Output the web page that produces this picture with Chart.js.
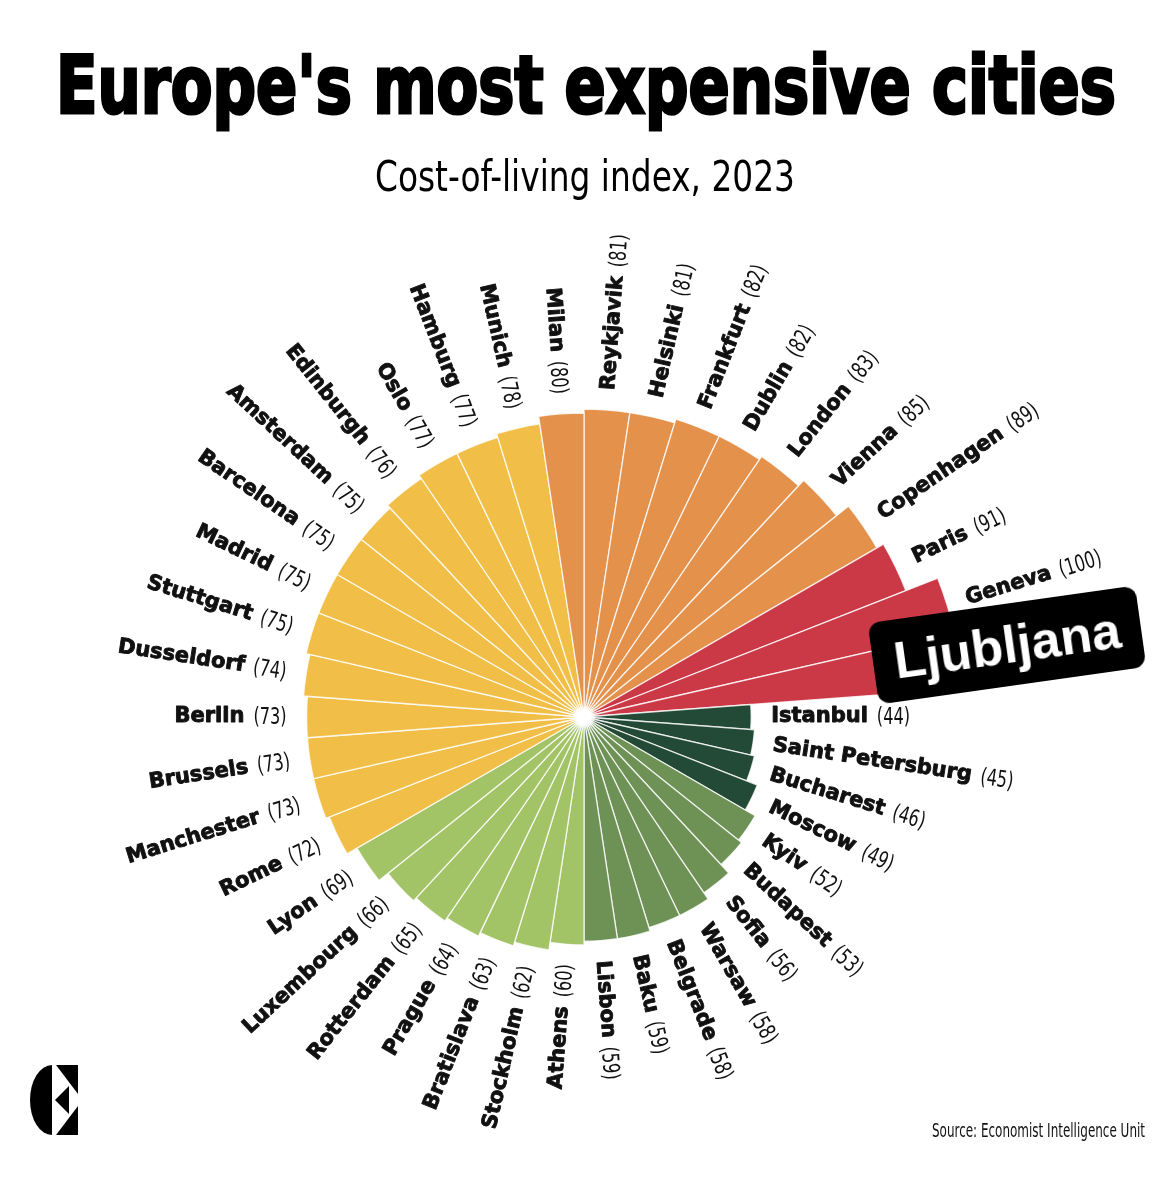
<!DOCTYPE html>
<html>
<head>
<meta charset="utf-8">
<title>Europe's most expensive cities</title>
<script src="https://cdn.jsdelivr.net/npm/chart.js@4.4.0/dist/chart.umd.min.js"></script>
<style>
  html, body { margin: 0; padding: 0; background: #fff; }
  #wrap { position: relative; width: 1170px; height: 1193px; overflow: hidden; }
  #chart { position: absolute; left: 0; top: 0; }
  .fit { position: absolute; white-space: nowrap; transform-origin: 0 0; line-height: 1; color: #000; }
  #title { left: 56px; top: 39px; font: bold 80px 'DejaVu Sans Condensed', 'DejaVu Sans', sans-serif; -webkit-text-stroke: 3px #000; }
  #subtitle { left: 375px; top: 151px; font: 43px 'Liberation Sans Narrow', 'DejaVu Sans Condensed', 'Liberation Sans', sans-serif; }
  #source { left: 932px; top: 1119px; font: 19px 'Liberation Sans Narrow', 'DejaVu Sans Condensed', 'Liberation Sans', sans-serif; color: #111; }
  #sticker {
    position: absolute; left: 872px; top: 604px; width: 270px; height: 82px;
    background: #000; border-radius: 12px; transform: rotate(-8deg);
    color: #fff; font: bold 52px 'Liberation Sans', Arial, sans-serif;
    line-height: 82px; text-align: center;
  }
  #logo { position: absolute; left: 30px; top: 1065px; }
</style>
</head>
<body>
<div id="wrap">
  <canvas id="chart" width="1170" height="1193"></canvas>
  <div id="title" class="fit" data-w="1060">Europe's most expensive cities</div>
  <div id="subtitle" class="fit" data-w="420">Cost-of-living index, 2023</div>
  <div id="source" class="fit" data-w="213">Source: Economist Intelligence Unit</div>
  <div id="sticker">Ljubljana</div>
  <svg id="logo" width="48" height="70" viewBox="0 0 48 70">
    <path d="M22,0 A22,35 0 0 0 22,70 Z" fill="#000"/>
    <polygon points="26,0 48,0 48,29" fill="#000"/>
    <polygon points="26,70 48,70 48,41" fill="#000"/>
    <polygon points="25,35 39,21 39,49" fill="#000"/>
  </svg>
</div>
<script>
// clockwise from 12 o'clock
var cities = ['Reykjavik', 'Helsinki', 'Frankfurt', 'Dublin', 'London', 'Vienna', 'Copenhagen',
  'Paris', 'Geneva', 'Zurich', 'Istanbul', 'Saint Petersburg', 'Bucharest', 'Moscow', 'Kyiv',
  'Budapest', 'Sofia', 'Warsaw', 'Belgrade', 'Baku', 'Lisbon', 'Athens', 'Stockholm',
  'Bratislava', 'Prague', 'Rotterdam', 'Luxembourg', 'Lyon', 'Rome', 'Manchester', 'Brussels',
  'Berlin', 'Dusseldorf', 'Stuttgart', 'Madrid', 'Barcelona', 'Amsterdam', 'Edinburgh', 'Oslo',
  'Hamburg', 'Munich', 'Milan'];
var values = [81, 81, 82, 82, 83, 85, 89,
  91, 100, 100, 44, 45, 46, 49, 52,
  53, 56, 58, 58, 59, 59, 60, 62,
  63, 64, 65, 66, 69, 72, 73, 73,
  73, 74, 75, 75, 75, 75, 76, 77,
  77, 78, 80];
// label under the sticker is not drawn
var coveredLabels = ['Zurich'];

var bandLimits = [50, 60, 70, 80, 90, Infinity];
var bandColors = ['#234a36', '#6e9156', '#a3c367', '#f1bf48', '#e4914b', '#cc3946'];

var NAME_FONT = "bold 21px 'DejaVu Sans', sans-serif";
var VALUE_FONT = "23px 'DejaVu Sans Condensed', 'Liberation Sans Narrow', 'DejaVu Sans', sans-serif";
var VALUE_SQUEEZE = 0.78;
var LABEL_OFFSET = 20;
var NAME_GAP = 9;

function colorFor(v) {
  for (var i = 0; i < bandLimits.length; i++) {
    if (v < bandLimits[i]) return bandColors[i];
  }
  return bandColors[bandColors.length - 1];
}

var labelPlugin = {
  id: 'cityLabels',
  afterDatasetsDraw: function(chart) {
    var ctx = chart.ctx;
    var meta = chart.getDatasetMeta(0);
    var hub = meta.data[0];
    ctx.save();

    var g = ctx.createRadialGradient(hub.x, hub.y, 0, hub.x, hub.y, 12);
    g.addColorStop(0, 'rgba(255,255,255,1)');
    g.addColorStop(0.55, 'rgba(255,255,255,1)');
    g.addColorStop(1, 'rgba(255,255,255,0)');
    ctx.fillStyle = g;
    ctx.beginPath();
    ctx.arc(hub.x, hub.y, 12, 0, Math.PI * 2);
    ctx.fill();

    ctx.fillStyle = '#111';
    ctx.strokeStyle = '#111';
    ctx.lineWidth = 0.9;
    ctx.lineJoin = 'round';
    ctx.textBaseline = 'middle';
    ctx.textAlign = 'left';
    meta.data.forEach(function(arc, i) {
      if (coveredLabels.indexOf(cities[i]) >= 0) return;
      var p = arc.getProps(['x', 'y', 'startAngle', 'endAngle', 'outerRadius'], true);
      var mid = (p.startAngle + p.endAngle) / 2;
      var name = cities[i];
      var val = '(' + values[i] + ')';
      ctx.font = NAME_FONT;
      var nw = ctx.measureText(name).width;
      ctx.font = VALUE_FONT;
      var vw = ctx.measureText(val).width * VALUE_SQUEEZE;
      var total = nw + NAME_GAP + vw;
      var d = p.outerRadius + LABEL_OFFSET;
      var x0;
      ctx.save();
      ctx.translate(p.x, p.y);
      if (Math.cos(mid) >= 0) {
        ctx.rotate(mid);
        x0 = d;
      } else {
        ctx.rotate(mid + Math.PI);
        x0 = -d - total;
      }
      ctx.font = NAME_FONT;
      ctx.fillText(name, x0, 0);
      ctx.strokeText(name, x0, 0);
      ctx.font = VALUE_FONT;
      ctx.translate(x0 + nw + NAME_GAP, 1);
      ctx.scale(VALUE_SQUEEZE, 1);
      ctx.fillText(val, 0, 0);
      ctx.restore();
    });
    ctx.restore();
  }
};

new Chart(document.getElementById('chart').getContext('2d'), {
  type: 'polarArea',
  data: {
    labels: cities,
    datasets: [{
      data: values,
      backgroundColor: values.map(colorFor),
      borderColor: 'rgba(255,255,255,0.8)',
      borderWidth: 1.3
    }]
  },
  options: {
    responsive: false,
    animation: false,
    layout: { padding: { left: 166, right: 168, top: 299, bottom: 58 } },
    plugins: {
      legend: { display: false },
      tooltip: { enabled: false },
      title: { display: false }
    },
    scales: {
      r: {
        min: 0,
        max: 110,
        startAngle: 0,
        ticks: { display: false },
        grid: { display: false },
        angleLines: { display: false },
        pointLabels: { display: false }
      }
    }
  },
  plugins: [labelPlugin]
});

// squeeze the HTML texts to the widths they have in the original
document.querySelectorAll('.fit').forEach(function(el) {
  var target = parseFloat(el.getAttribute('data-w'));
  var w = el.getBoundingClientRect().width;
  if (w > 0) el.style.transform = 'scaleX(' + (target / w) + ')';
});
</script>
</body>
</html>
